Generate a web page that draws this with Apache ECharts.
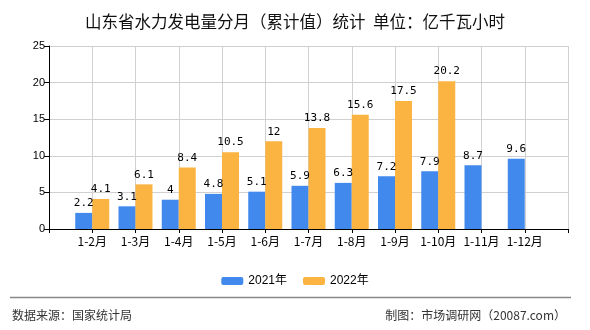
<!DOCTYPE html>
<html>
<head>
<meta charset="utf-8">
<script src="https://cdn.jsdelivr.net/npm/echarts@6/dist/echarts.min.js"></script>
<style>
html,body{margin:0;padding:0;background:#fff;}
#c{width:590px;height:330px;}
</style>
</head>
<body>
<div id="c"></div>
<script>
var titleText = '山东省水力发电量分月（累计值）统计  单位：亿千瓦小时';
var categories = ['1-2月','1-3月','1-4月','1-5月','1-6月','1-7月','1-8月','1-9月','1-10月','1-11月','1-12月'];
var series2021 = [2.2, 3.1, 4, 4.8, 5.1, 5.9, 6.3, 7.2, 7.9, 8.7, 9.6];
var series2022 = [4.1, 6.1, 8.4, 10.5, 12, 13.8, 15.6, 17.5, 20.2, null, null];
var seriesNames = ['2021年', '2022年'];
var yTicks = [0, 5, 10, 15, 20, 25];
var sourceText = '数据来源：国家统计局';
var creditText = '制图：市场调研网（20087.com）';

// pad with empty slots at both ends so the categories sit on the grid lines
var cats = [''].concat(categories, ['']);
function pad(a){ return [null].concat(a, [null]); }

var chart = echarts.init(document.getElementById('c'), null, {renderer:'canvas'});
var labelStyle = {
  show: true, position: 'top', distance: 4,
  fontFamily: 'DejaVu Sans Mono', fontSize: 11, color: '#000'
};
chart.setOption({
  animation: false,
  backgroundColor: '#fff',
  title: {
    text: titleText, left: 'center', top: 8,
    textStyle: {fontFamily: 'Noto Sans CJK SC', fontSize: 16.5, fontWeight: 'normal', color: '#111'}
  },
  legend: {
    data: seriesNames, left: 'center', top: 270,
    itemWidth: 22, itemHeight: 8, itemGap: 16,
    textStyle: {fontFamily: 'Liberation Sans, Noto Sans CJK SC', fontSize: 12, color: '#000'}
  },
  grid: {left: 49, right: 22, top: 46, bottom: 101, containLabel: false},
  xAxis: {
    type: 'category', data: cats, boundaryGap: false,
    axisLine: {lineStyle: {color: '#000', width: 1}},
    axisTick: {show: true, length: 4, lineStyle: {color: '#000'}},
    axisLabel: {color: '#000', fontSize: 12, fontFamily: 'Noto Sans CJK SC', margin: 6, interval: 0},
    splitLine: {show: true, lineStyle: {color: '#d0d0d0', width: 1}}
  },
  yAxis: {
    type: 'value', min: yTicks[0], max: yTicks[yTicks.length-1], interval: 5,
    axisLine: {show: true, lineStyle: {color: '#000', width: 1}},
    axisTick: {show: true, length: 5, lineStyle: {color: '#000'}},
    axisLabel: {color: '#000', fontSize: 11, fontFamily: 'Liberation Sans', margin: 4},
    splitLine: {show: true, lineStyle: {color: '#d0d0d0', width: 1}}
  },
  series: [
    {name: seriesNames[0], type: 'bar', data: pad(series2021), barWidth: 17, barGap: '0%',
     itemStyle: {color: '#4189ed'}, label: labelStyle},
    {name: seriesNames[1], type: 'bar', data: pad(series2022), barWidth: 17, barGap: '0%',
     itemStyle: {color: '#fbb441'}, label: labelStyle}
  ],
  graphic: [
    {type: 'line', shape: {x1: 10, y1: 297.5, x2: 571, y2: 297.5}, style: {stroke: '#888', lineWidth: 1.5}, silent: true},
    {type: 'text', left: 12, top: 309, style: {text: sourceText, fontFamily: 'Noto Sans CJK SC', fontSize: 12, fill: '#333'}},
    {type: 'text', right: 24, top: 309, style: {text: creditText, fontFamily: 'Noto Sans CJK SC', fontSize: 12, fill: '#333'}}
  ]
});
</script>
</body>
</html>
